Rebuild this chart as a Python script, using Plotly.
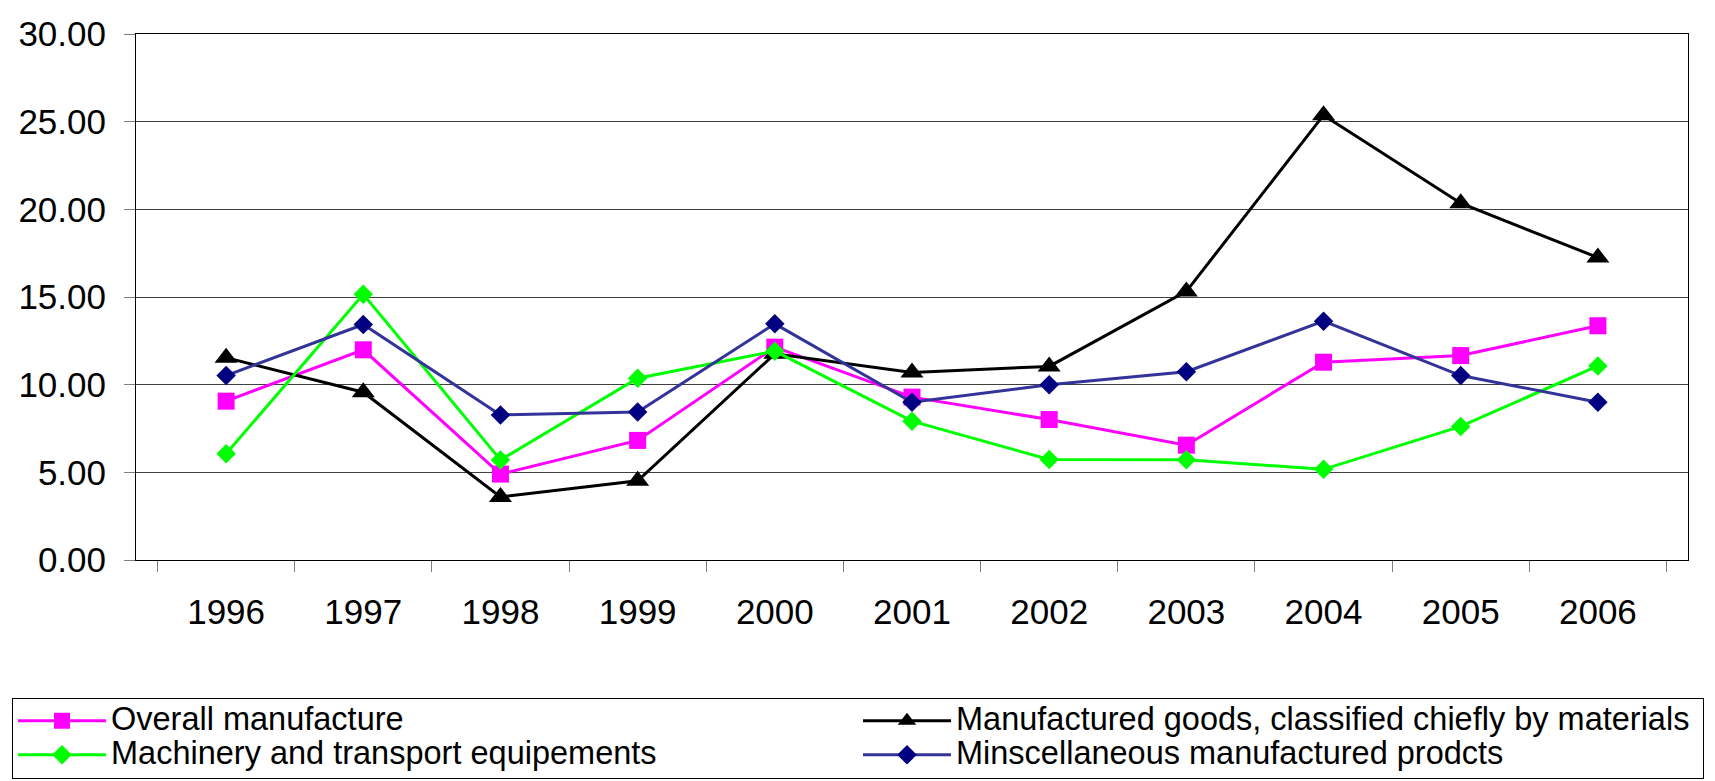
import plotly.graph_objects as go

# Annual growth rates (%) by manufactured-goods category
years = ["1996", "1997", "1998", "1999", "2000", "2001", "2002", "2003", "2004", "2005", "2006"]

overall_manufacture = [9.06, 11.99, 4.90, 6.82, 12.14, 9.29, 8.01, 6.55, 11.28, 11.66, 13.36]
manufactured_goods = [11.54, 9.57, 3.60, 4.52, 11.76, 10.70, 11.04, 15.32, 25.37, 20.35, 17.25]
machinery_transport = [6.06, 15.15, 5.71, 10.37, 11.91, 7.92, 5.73, 5.72, 5.17, 7.62, 11.07]
misc_manufactured = [10.52, 13.43, 8.27, 8.44, 13.47, 9.00, 9.99, 10.74, 13.62, 10.52, 9.00]

series_names = [
    "Overall manufacture",
    "Manufactured goods, classified chiefly by materials",
    "Machinery and transport equipements",
    "Minscellaneous manufactured prodcts",
]

FONT = "Liberation Sans, Arial, sans-serif"


def legend_label(text):
    # larger glyphs than the legend's base size, so rows stay tightly packed
    return f"<span style='font-size:32.5px'>{text}</span>"


fig = go.Figure()

fig.add_trace(go.Scatter(
    x=years, y=overall_manufacture, name=legend_label(series_names[0]), mode="lines+markers",
    line=dict(color="#FF00FF", width=3),
    marker=dict(symbol="square", size=17, color="#FF00FF"),
))
fig.add_trace(go.Scatter(
    x=years, y=manufactured_goods, name=legend_label(series_names[1]), mode="lines+markers",
    line=dict(color="#000000", width=3),
    marker=dict(symbol="triangle-up", size=20, color="#000000"),
))
fig.add_trace(go.Scatter(
    x=years, y=machinery_transport, name=legend_label(series_names[2]), mode="lines+markers",
    line=dict(color="#00FF00", width=3),
    marker=dict(symbol="diamond", size=15, color="#00FF00"),
))
fig.add_trace(go.Scatter(
    x=years, y=misc_manufactured, name=legend_label(series_names[3]), mode="lines+markers",
    line=dict(color="#333399", width=3),
    marker=dict(symbol="diamond", size=15, color="#000080"),
))

fig.update_layout(
    width=1715,
    height=781,
    margin=dict(l=136, r=27, t=34, b=221, autoexpand=False),
    paper_bgcolor="white",
    plot_bgcolor="white",
    font=dict(family=FONT, size=35, color="black"),
    showlegend=True,
    legend=dict(
        orientation="h",
        x=-0.0799,
        xanchor="left",
        y=-0.2615,
        yanchor="top",
        bordercolor="black",
        borderwidth=1,
        bgcolor="white",
        font=dict(family=FONT, size=24, color="black"),
        entrywidth=742,
        entrywidthmode="pixels",
        itemwidth=88,
        traceorder="normal",
    ),
    xaxis=dict(
        type="category",
        tickson="boundaries",
        ticks="outside",
        ticklen=11,
        tickcolor="#808080",
        tickwidth=1,
        showline=True,
        linecolor="black",
        linewidth=1,
        mirror=True,
        showgrid=False,
        ticklabelstandoff=21,
        tickfont=dict(family=FONT, size=35),
    ),
    yaxis=dict(
        range=[0, 30],
        dtick=5,
        tickformat=".2f",
        ticks="outside",
        ticklen=11,
        tickcolor="#808080",
        tickwidth=1,
        showline=True,
        linecolor="black",
        linewidth=1,
        mirror=True,
        showgrid=True,
        gridcolor="#404040",
        gridwidth=1,
        zeroline=False,
        ticklabelstandoff=11,
        tickfont=dict(family=FONT, size=35),
    ),
)

fig.write_html("out.html")
